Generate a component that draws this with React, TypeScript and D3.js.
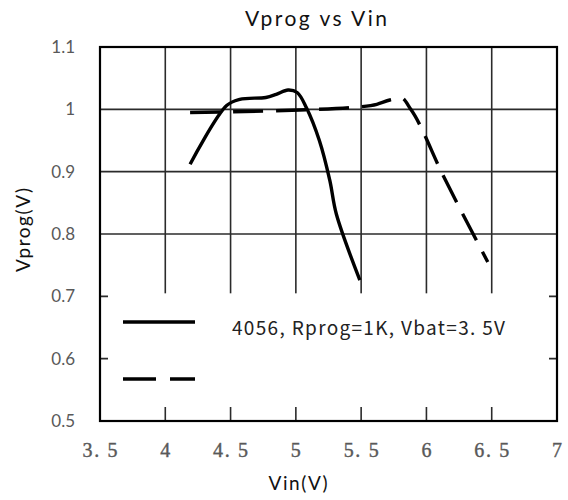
import React from "react";
import * as d3 from "d3";

const xTicks = [3.5, 4, 4.5, 5, 5.5, 6, 6.5, 7];
const xTickLabels = ["3. 5", "4", "4. 5", "5", "5. 5", "6", "6. 5", "7"];
const yTicks = [0.5, 0.6, 0.7, 0.8, 0.9, 1, 1.1];
const yTickLabels = ["0.5", "0.6", "0.7", "0.8", "0.9", "1", "1.1"];

// solid curve
const solidVin = [4.19, 4.47, 4.57, 4.77, 4.85, 4.94, 5.01, 5.08, 5.18, 5.26, 5.31, 5.49];
const solidVprog = [0.912, 1.006, 1.016, 1.019, 1.024, 1.031, 1.027, 1.003, 0.95, 0.886, 0.832, 0.726];

// dashed curve
const dashVin = [4.19, 5.03, 5.49, 5.62, 5.72, 5.81, 5.88, 6.13, 6.47];
const dashVprog = [0.995, 0.999, 1.004, 1.008, 1.015, 1.018, 1.0, 0.893, 0.755];

const legendText = "4056, Rprog=1K, Vbat=3. 5V";

const W = 568;
const H = 500;
const left = 100;
const right = 557;
const top = 47;
const bottom = 421;

const App = () => {
  const x = d3.scaleLinear().domain([3.5, 7]).range([left, right]);
  const y = d3.scaleLinear().domain([0.5, 1.1]).range([bottom, top]);

  const solidLine = d3
    .line<[number, number]>()
    .x((d) => x(d[0]))
    .y((d) => y(d[1]))
    .curve(d3.curveCatmullRom.alpha(0.5));
  const dashLine = d3
    .line<[number, number]>()
    .x((d) => x(d[0]))
    .y((d) => y(d[1]))
    .curve(d3.curveMonotoneX);

  const solidPath = solidLine(solidVin.map((v, i) => [v, solidVprog[i]]) as [number, number][]) || "";
  const dashPath = dashLine(dashVin.map((v, i) => [v, dashVprog[i]]) as [number, number][]) || "";

  const gridColor = "#2b2b2b";
  const legTop = y(0.7) - 3;
  const legBottom = y(0.5) - 14;
  const labelFont = "Lato, 'Open Sans', sans-serif";

  return (
    <svg
      width={W}
      height={H}
      style={{ position: "absolute", left: 0, top: 0, background: "#fff" }}
    >
      <text
        x={316}
        y={26}
        textAnchor="middle"
        fontFamily={labelFont}
        fontSize={21}
        fill="#111"
        textLength={142}
        lengthAdjust="spacing"
      >
        Vprog  vs  Vin
      </text>

      {/* grid */}
      {xTicks.slice(1, -1).map((t) => (
        <line key={"vx" + t} x1={x(t)} x2={x(t)} y1={top} y2={bottom} stroke={gridColor} strokeWidth={1.6} />
      ))}
      {yTicks.slice(1, -1).map((t) => (
        <line key={"hy" + t} x1={left} x2={right} y1={y(t)} y2={y(t)} stroke={gridColor} strokeWidth={1.6} />
      ))}

      {/* legend box covers the lower grid */}
      <rect x={left + 8} y={legTop} width={right - left - 16} height={legBottom - legTop} fill="#fff" />

      {/* curves */}
      <path d={solidPath} fill="none" stroke="#000" strokeWidth={3.4} strokeLinejoin="round" />
      <path d={dashPath} fill="none" stroke="#000" strokeWidth={3.4} strokeDasharray="30,13" />

      {/* frame */}
      <rect x={left} y={top} width={right - left} height={bottom - top} fill="none" stroke="#000" strokeWidth={2.2} />

      {/* y labels */}
      {yTicks.map((t, i) => (
        <text
          key={"yl" + t}
          x={75}
          y={y(t)}
          dy="0.36em"
          textAnchor="end"
          fontFamily={labelFont}
          fontSize={17}
          fill="#595959"
        >
          {yTickLabels[i]}
        </text>
      ))}

      {/* x labels */}
      {xTicks.map((t, i) => (
        <text
          key={"xl" + t}
          x={x(t)}
          y={457}
          textAnchor="middle"
          fontFamily="'Liberation Serif', 'DejaVu Serif', serif"
          fontSize={20}
          fill="#595959"
          stroke="#595959"
          strokeWidth={0.4}
          textLength={xTickLabels[i].length > 1 ? 35 : undefined}
          lengthAdjust="spacing"
        >
          {xTickLabels[i]}
        </text>
      ))}

      <text
        x={298}
        y={490}
        textAnchor="middle"
        fontFamily={labelFont}
        fontSize={19}
        fill="#111"
        textLength={59}
        lengthAdjust="spacing"
      >
        Vin(V)
      </text>
      <text
        transform="translate(30,230) rotate(-90)"
        textAnchor="middle"
        fontFamily={labelFont}
        fontSize={19}
        fill="#111"
        textLength={84}
        lengthAdjust="spacing"
      >
        Vprog(V)
      </text>

      {/* legend */}
      <line x1={123} x2={195} y1={322} y2={322} stroke="#000" strokeWidth={3.6} />
      <line x1={123} x2={195} y1={379} y2={379} stroke="#000" strokeWidth={3.6} strokeDasharray="33,14" />
      <text
        x={232}
        y={335}
        fontFamily="'Noto Sans CJK SC', 'DejaVu Sans', sans-serif"
        fontSize={19}
        fill="#222"
        textLength={273}
        lengthAdjust="spacing"
      >
        {legendText}
      </text>
    </svg>
  );
};

export default App;
